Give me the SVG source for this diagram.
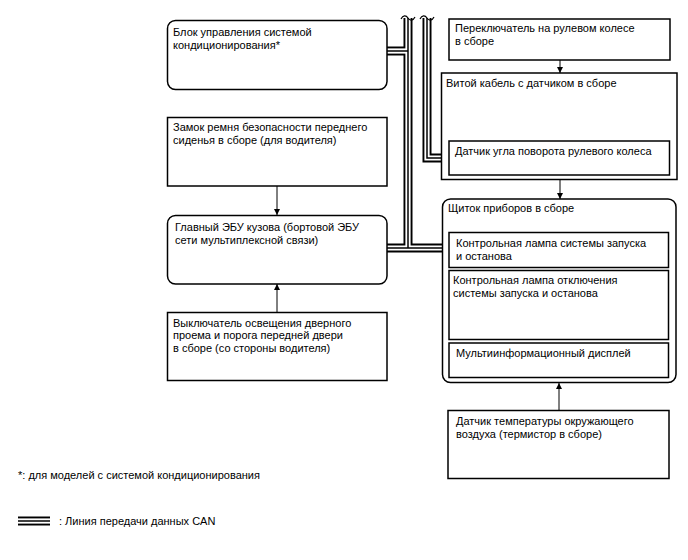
<svg xmlns="http://www.w3.org/2000/svg" xmlns:xlink="http://www.w3.org/1999/xlink" width="688" height="560" viewBox="0 0 688 560">
<style>
text{font-family:"Liberation Sans",Arial,sans-serif;font-size:11px;fill:#000}
.box{fill:#fff;stroke:#000;stroke-width:1.5}
.arr{stroke:#000;stroke-width:1;fill:none;marker-end:url(#ah)}
.b1{fill:none;stroke:#000;stroke-width:9}
.b2{fill:none;stroke:#fff;stroke-width:5.2}
.b3{fill:none;stroke:#000;stroke-width:1.5}
.wave{fill:none;stroke:#000;stroke-width:1.2}
</style>
<defs>
<marker id="ah" viewBox="0 0 10 10" refX="10" refY="5" markerWidth="6" markerHeight="9" markerUnits="userSpaceOnUse" orient="auto">
<path d="M0,0 L10,5 L0,10 z" fill="#000"/>
</marker>
<path id="busL" d="M408,18 V248"/>
<path id="busAC" d="M387,51 H408"/>
<path id="busH" d="M387,248 H442"/>
<path id="busR" d="M427,18 V158 H449"/>
<path id="busLeg" d="M18,521 H50"/>
</defs>
<rect width="688" height="560" fill="#fff"/>
<g id="connectors">
<use xlink:href="#busL" class="b1"/><use xlink:href="#busAC" class="b1"/><use xlink:href="#busH" class="b1"/><use xlink:href="#busR" class="b1"/>
<use xlink:href="#busL" class="b2"/><use xlink:href="#busAC" class="b2"/><use xlink:href="#busH" class="b2"/><use xlink:href="#busR" class="b2"/>
<use xlink:href="#busL" class="b3"/><use xlink:href="#busAC" class="b3"/><use xlink:href="#busH" class="b3"/><use xlink:href="#busR" class="b3"/>
<path class="wave" d="M401,19 c2,-4 5,-4 7,-1 s5,3 7,-1"/>
<path class="wave" d="M420,19 c2,-4 5,-4 7,-1 s5,3 7,-1"/>
<path class="arr" d="M560,60 V73"/>
<path class="arr" d="M560,180 V199"/>
<path class="arr" d="M277,186 V215"/>
<path class="arr" d="M277,312 V284"/>
<path class="arr" d="M559,410 V383"/>
</g>
<g id="ac">
<rect class="box" x="167.5" y="20.5" width="219.5" height="69" rx="8"/>
<text x="173" y="36">Блок управления системой</text>
<text x="173" y="48.5">кондиционирования*</text>
</g>
<g id="seatbelt">
<rect class="box" x="167.5" y="117.5" width="219.5" height="68.5"/>
<text x="173" y="131">Замок ремня безопасности переднего</text>
<text x="173" y="143.5">сиденья в сборе (для водителя)</text>
</g>
<g id="mainecu">
<rect class="box" x="167.5" y="215.5" width="219.5" height="68.5" rx="8"/>
<text x="175" y="231">Главный ЭБУ кузова (бортовой ЭБУ</text>
<text x="175" y="243.5">сети мультиплексной связи)</text>
</g>
<g id="doorswitch">
<rect class="box" x="167.5" y="312.5" width="219.5" height="68"/>
<text x="173" y="326.5">Выключатель освещения дверного</text>
<text x="173" y="339">проема и порога передней двери</text>
<text x="173" y="351.5">в сборе (со стороны водителя)</text>
</g>
<g id="steerswitch">
<rect class="box" x="449" y="19" width="221" height="41"/>
<text x="455" y="32">Переключатель на рулевом колесе</text>
<text x="455" y="44.5">в сборе</text>
</g>
<g id="spiral">
<rect class="box" x="441.5" y="73" width="235.5" height="106.5"/>
<text x="446" y="86.5">Витой кабель с датчиком в сборе</text>
</g>
<g id="anglesensor">
<rect class="box" x="449" y="141" width="220.5" height="34"/>
<text x="455" y="154.5">Датчик угла поворота рулевого колеса</text>
</g>
<g id="meter">
<rect class="box" x="442.5" y="199" width="233.5" height="183.5" rx="8"/>
<text x="448" y="211.5">Щиток приборов в сборе</text>
</g>
<g id="lamp1">
<rect class="box" x="449" y="232.5" width="219.5" height="35"/>
<text x="456" y="246.5">Контрольная лампа системы запуска</text>
<text x="456" y="259.5">и останова</text>
</g>
<g id="lamp2">
<rect class="box" x="449" y="270.5" width="219.5" height="69"/>
<text x="453" y="283.5">Контрольная лампа отключения</text>
<text x="453" y="296.5">системы запуска и останова</text>
</g>
<g id="mid">
<rect class="box" x="449" y="343" width="219.5" height="34.5"/>
<text x="456" y="356.5">Мультиинформационный дисплей</text>
</g>
<g id="ambient">
<rect class="box" x="448" y="410.5" width="221" height="68"/>
<text x="456" y="425">Датчик температуры окружающего</text>
<text x="456" y="438">воздуха (термистор в сборе)</text>
</g>
<g id="legend">
<text x="18" y="479">*: для моделей с системой кондиционирования</text>
<use xlink:href="#busLeg" class="b1"/><use xlink:href="#busLeg" class="b2"/><use xlink:href="#busLeg" class="b3"/>
<text x="59" y="525">: Линия передачи данных CAN</text>
</g>
</svg>
